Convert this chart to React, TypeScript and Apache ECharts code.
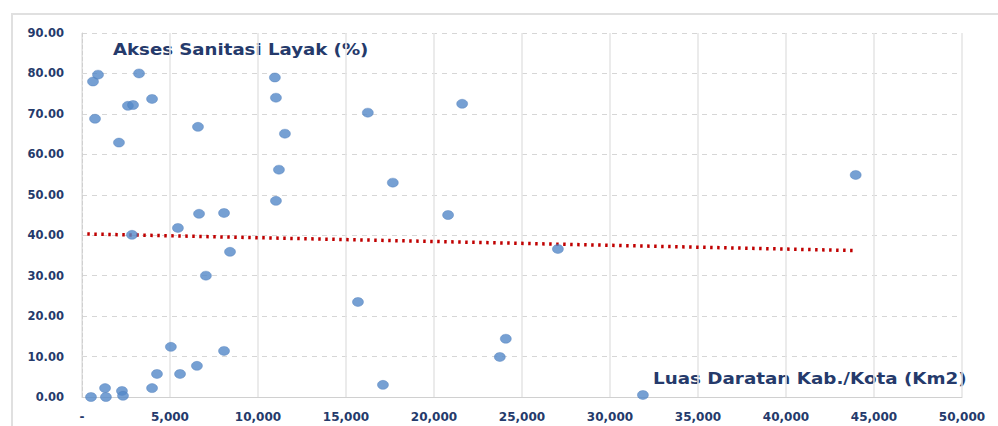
import React, { useEffect, useRef } from "react";
import * as echarts from "echarts";

const luasDaratan: number[] = [
  625, 910, 3240, 740, 2610, 2900, 3980, 2100, 6590, 10960, 11020, 11530, 11190, 11020,
  6650, 8070, 16240, 21600, 17660, 20800, 43960, 2840, 5450, 8410, 7040, 5050, 8070,
  6530, 5570, 4260, 3980, 1310, 2270, 2330, 510, 1360, 27040, 15680, 24080, 23740,
  17100, 31870,
];
const aksesSanitasi: number[] = [
  78.0, 79.7, 80.0, 68.8, 72.0, 72.2, 73.7, 62.9, 66.8, 79.0, 74.0, 65.1, 56.2, 48.5,
  45.3, 45.5, 70.3, 72.5, 53.0, 45.0, 54.9, 40.1, 41.8, 35.9, 30.0, 12.4, 11.4,
  7.7, 5.7, 5.7, 2.2, 2.2, 1.5, 0.3, 0.0, 0.0, 36.6, 23.5, 14.4, 9.9,
  3.0, 0.5,
];
const trendX: number[] = [300, 43960];
const trendY: number[] = [40.3, 36.2];

const yTitle = "Akses Sanitasi Layak (%)";
const xTitle = "Luas Daratan Kab./Kota (Km2)";

const NAVY = "#253a6b";
const FONT = "DejaVu Sans";

export default function App() {
  const ref = useRef<HTMLDivElement>(null);
  useEffect(() => {
    if (!ref.current) return;
    const chart = echarts.init(ref.current, null, { renderer: "svg" });
    const points = luasDaratan.map((x, i) => [x, aksesSanitasi[i]]);
    const trend = trendX.map((x, i) => [x, trendY[i]]);
    chart.setOption({
      animation: false,
      backgroundColor: "#ffffff",
      grid: { left: 82, right: 36, top: 33, bottom: 29 },
      xAxis: {
        type: "value",
        min: 0,
        max: 50000,
        interval: 5000,
        axisLine: { show: true, lineStyle: { color: "#d0d0d0", width: 1 } },
        axisTick: { show: false },
        splitLine: { show: true, lineStyle: { color: "#e4e4e4", width: 1.5 } },
        axisLabel: {
          margin: 14,
          color: NAVY,
          fontFamily: FONT,
          fontWeight: "bold",
          fontSize: 12,
          formatter: (v: number) => (v === 0 ? "-" : v.toLocaleString("en-US")),
        },
      },
      yAxis: {
        type: "value",
        min: 0,
        max: 90,
        interval: 10,
        axisLine: { show: true, lineStyle: { color: "#d0d0d0", type: "dashed" } },
        axisTick: { show: false },
        splitLine: { show: true, lineStyle: { color: "#d6d6d6", type: [5, 5] } },
        axisLabel: {
          margin: 18,
          color: NAVY,
          fontFamily: FONT,
          fontWeight: "bold",
          fontSize: 11.5,
          formatter: (v: number) => v.toFixed(2),
        },
      },
      graphic: [
        {
          type: "rect",
          shape: { x: 12, y: 14, width: 1000, height: 430 },
          style: { fill: "none", stroke: "#e0e0e0", lineWidth: 2 },
          silent: true,
        },
        {
          type: "text",
          x: 113,
          y: 49,
          scaleX: 1.1,
          style: {
            text: yTitle,
            fill: NAVY,
            font: `bold 16.5px "${FONT}"`,
            textVerticalAlign: "middle",
          },
        },
        {
          type: "text",
          x: 653,
          y: 378,
          scaleX: 1.11,
          style: {
            text: xTitle,
            fill: NAVY,
            font: `bold 16.5px "${FONT}"`,
            textVerticalAlign: "middle",
          },
        },
      ],
      series: [
        {
          type: "line",
          data: trend,
          symbol: "none",
          lineStyle: { color: "#c00000", width: 3.5, type: [2.5, 4.5] },
          z: 3,
        },
        {
          type: "scatter",
          data: points,
          symbol: "circle",
          symbolSize: [11, 9],
          itemStyle: { color: "#5488c8", borderColor: "#4a7bb8", borderWidth: 0.5 },
          z: 4,
        },
      ],
    });
    return () => chart.dispose();
  }, []);
  return <div ref={ref} style={{ width: 998, height: 426, position: "absolute", left: 0, top: 0 }} />;
}
